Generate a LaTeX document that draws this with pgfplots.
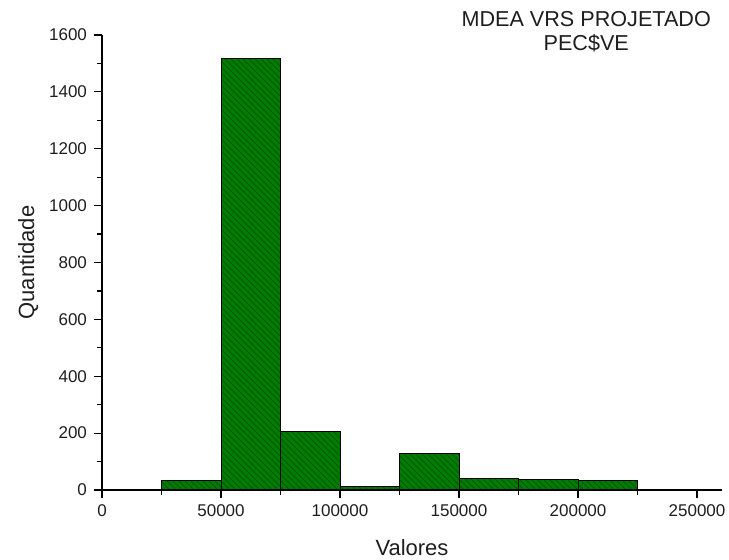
\documentclass[border=0pt]{standalone}
\usepackage{fontspec}
\setmainfont{Liberation Sans}
\usepackage{pgfplots}
\pgfplotsset{compat=1.18}
\usetikzlibrary{patterns}

\definecolor{barfill}{RGB}{0,125,0}
\definecolor{hatch}{RGB}{0,88,0}
\definecolor{txt}{RGB}{30,30,30}

\begin{document}
\begin{tikzpicture}
\useasboundingbox (-51pt,-35pt) rectangle (313.5pt,245pt);
\begin{axis}[
    scale only axis,
    width=310pt, height=227.5pt,
    xmin=0, xmax=260500,
    ymin=0, ymax=1600,
    axis x line=bottom, axis y line=left,
    axis line style={-, line width=0.6pt},
    tick align=outside,
    major tick length=4pt, minor tick length=2.5pt,
    tick style={black, line width=0.6pt},
    xtick={0,50000,...,250000},
    ytick={0,200,...,1600},
    minor x tick num=1, minor y tick num=1,
    scaled x ticks=false,
    /pgf/number format/fixed, /pgf/number format/1000 sep={},
    /pgf/number format/assume math mode=true,
    tick label style={font=\fontsize{8.5}{10}\selectfont, text=txt},
    xlabel={Valores}, ylabel={Quantidade},
    label style={font=\fontsize{11}{13}\selectfont, text=txt},
    xlabel style={at={(axis description cs:0.5,-0.126)}, anchor=center},
    ylabel style={at={(axis description cs:-0.119,0.5)}, anchor=center},
    clip=false,
]
\addplot[ybar interval, draw=black, line width=0.5pt, fill=barfill,
    postaction={pattern=north west lines, pattern color=hatch}]
coordinates {
    (25000,34) (50000,1517) (75000,207) (100000,12) (125000,130)
    (150000,40) (175000,37) (200000,34) (225000,34)
};
\node[align=center, font=\fontsize{10.8}{11.75}\selectfont, text=txt]
    at (rel axis cs:0.781,1.007) {MDEA VRS PROJETADO\\PEC\$VE};
\end{axis}
\end{tikzpicture}
\end{document}
